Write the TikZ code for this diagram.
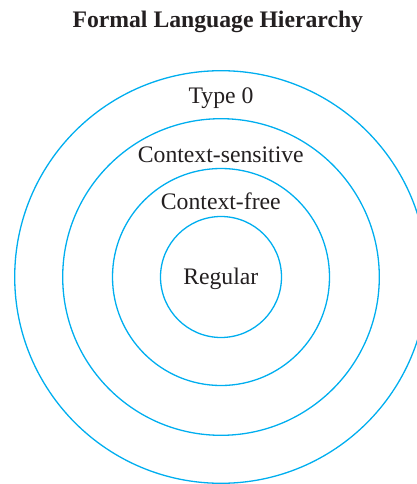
\documentclass[tikz,border=0pt]{standalone}
\usepackage{fontspec}
\setmainfont{Liberation Serif}
\definecolor{ringblue}{RGB}{0,174,239}
\definecolor{inkgray}{RGB}{35,31,32}
\begin{document}
\begin{tikzpicture}[x=1pt,y=-1pt,
  ring/.style={circle,draw=ringblue,line width=1.3pt,inner sep=0pt,outer sep=0pt},
  lbl/.style={anchor=base,inner sep=0pt,text=inkgray,font=\fontsize{23.7}{26}\selectfont},
  ttl/.style={anchor=base,inner sep=0pt,text=inkgray,font=\fontsize{23.7}{26}\selectfont\bfseries}]
\useasboundingbox (0,0) rectangle (417,484);
\begin{scope}
\clip (0,0) rectangle (417,484);
\node[ring,minimum size=412.6pt] (t0) at (221,277) {};
\node[ring,minimum size=316.6pt] (cs) at (221,277) {};
\node[ring,minimum size=217pt] (cf) at (221,277) {};
\node[ring,minimum size=121pt] (reg) at (221,277) {};
\end{scope}
\node[ttl] (title) at (217.8,27.3) {Formal Language Hierarchy};
\node[lbl] (l0) at (221,103.3) {Type 0};
\node[lbl] (l1) at (220.8,162.3) {Context-sensitive};
\node[lbl] (l2) at (220.8,209.3) {Context-free};
\node[lbl] (l3) at (220.8,284) {Regular};
\end{tikzpicture}
\end{document}
